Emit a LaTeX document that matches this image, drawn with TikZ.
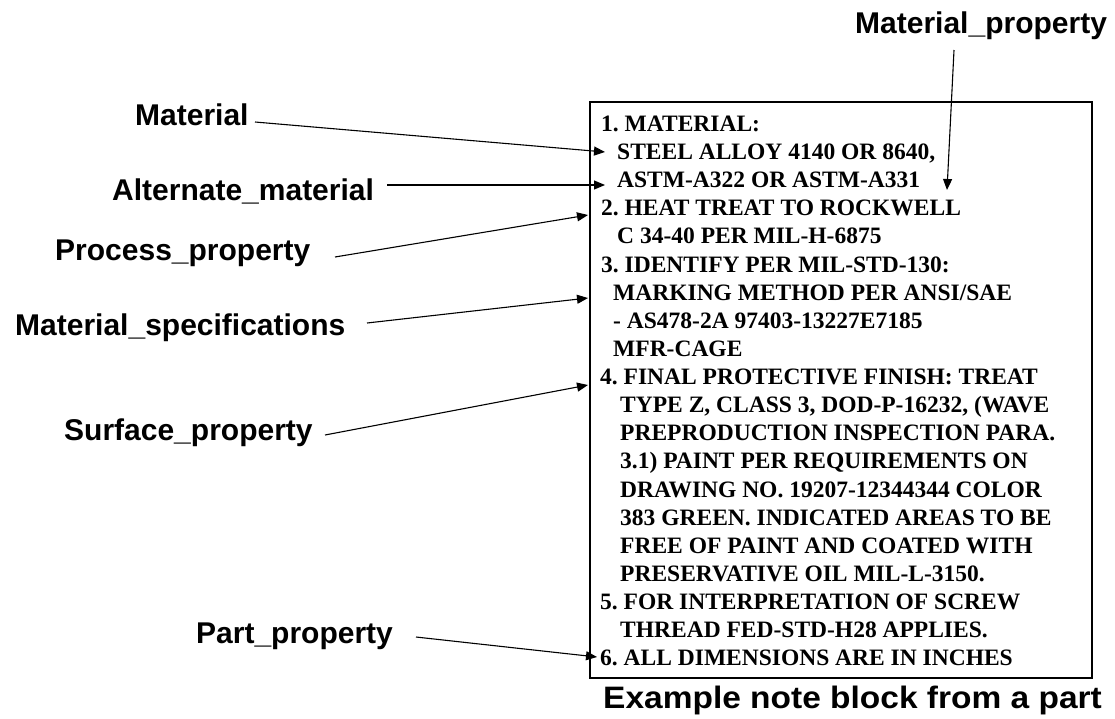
\documentclass[tikz,border=0pt]{standalone}
\usepackage{fontspec}
\setmainfont{Liberation Serif}
\newfontfamily\labelfont{Liberation Sans}
\usetikzlibrary{arrows.meta}
\begin{document}
\frenchspacing
\begin{tikzpicture}[x=1pt,y=-1pt,
  tag/.style={anchor=base west,inner sep=0pt,
    font=\labelfont\bfseries\fontsize{30}{32}\selectfont},
  note/.style={anchor=base west,inner sep=0pt,
    font=\bfseries\fontsize{23.5}{26}\selectfont},
  pointer/.style={line width=1.1pt,-{Triangle[length=11pt,width=9pt]}}]
\useasboundingbox (0,0) rectangle (1115,718);

% note block frame
\draw[line width=1.1pt] (590,102) rectangle (1092,678);

% note block text, one node per printed line
\node[note] (n1)  at (601,131) {1. MATERIAL:};
\node[note] (n2)  at (617,159) {STEEL ALLOY 4140 OR 8640,};
\node[note] (n3)  at (617,187) {ASTM-A322 OR ASTM-A331};
\node[note] (n4)  at (601,215) {2. HEAT TREAT TO ROCKWELL};
\node[note] (n5)  at (617,243) {C 34-40 PER MIL-H-6875};
\node[note] (n6)  at (601,272) {3. IDENTIFY PER MIL-STD-130:};
\node[note] (n7)  at (613,300) {MARKING METHOD PER ANSI/SAE};
\node[note] (n8)  at (613,328) {- AS478-2A 97403-13227E7185};
\node[note] (n9)  at (613,356) {MFR-CAGE};
\node[note] (n10) at (600,384) {4. FINAL PROTECTIVE FINISH: TREAT};
\node[note] (n11) at (620,412) {TYPE Z, CLASS 3, DOD-P-16232, (WAVE};
\node[note] (n12) at (620,440) {PREPRODUCTION INSPECTION PARA.};
\node[note] (n13) at (620,468) {3.1) PAINT PER REQUIREMENTS ON};
\node[note] (n14) at (620,497) {DRAWING NO. 19207-12344344 COLOR};
\node[note] (n15) at (620,525) {383 GREEN. INDICATED AREAS TO BE};
\node[note] (n16) at (620,553) {FREE OF PAINT AND COATED WITH};
\node[note] (n17) at (620,581) {PRESERVATIVE OIL MIL-L-3150.};
\node[note] (n18) at (600,609) {5. FOR INTERPRETATION OF SCREW};
\node[note] (n19) at (620,637) {THREAD FED-STD-H28 APPLIES.};
\node[note] (n20) at (600,665) {6. ALL DIMENSIONS ARE IN INCHES};

% property labels
\node[tag] (mat)   at (135,125) {Material};
\node[tag] (alt)   at (112,200) {Alternate\_material};
\node[tag] (proc)  at (55,260)  {Process\_property};
\node[tag] (spec)  at (15,335)  {Material\_specifications};
\node[tag] (surf)  at (64,440)  {Surface\_property};
\node[tag] (part)  at (196,643) {Part\_property};
\node[tag] (mprop) at (855,33)  {Material\_property};
\node[anchor=base west,inner sep=0pt,xscale=1.08,transform shape,
  font=\labelfont\bfseries\fontsize{31}{33}\selectfont] (cap) at (603,708)
  {Example note block from a part};

% connector ends
\coordinate (matS)   at (255,122);  \coordinate (matT)   at (605,152);
\coordinate (altS)   at (387,185);  \coordinate (altT)   at (605,185);
\coordinate (procS)  at (335,257);  \coordinate (procT)  at (588,215);
\coordinate (specS)  at (367,323);  \coordinate (specT)  at (588,298);
\coordinate (surfS)  at (325,435);  \coordinate (surfT)  at (588,385);
\coordinate (partS)  at (416,637);  \coordinate (partT)  at (597,657);
\coordinate (mpropS) at (954,50);   \coordinate (mpropT) at (947,190);

% leader arrows
\draw[pointer] (matS) -- (matT);
\draw[pointer] (altS) -- (altT);
\draw[pointer] (procS) -- (procT);
\draw[pointer] (specS) -- (specT);
\draw[pointer] (surfS) -- (surfT);
\draw[pointer] (partS) -- (partT);
\draw[pointer] (mpropS) -- (mpropT);
\end{tikzpicture}
\end{document}
